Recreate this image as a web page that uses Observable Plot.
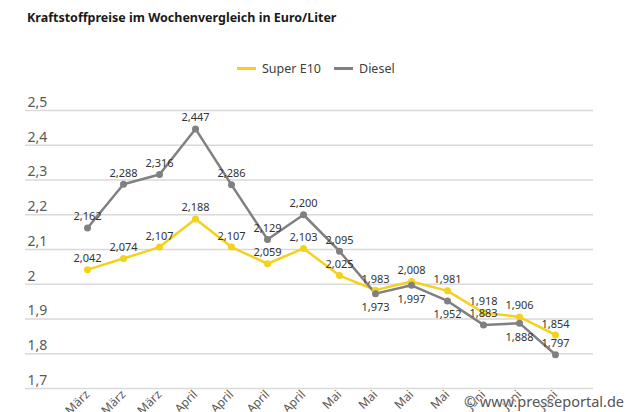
<!DOCTYPE html>
<html lang="de">
<head>
<meta charset="utf-8">
<script src="https://cdn.jsdelivr.net/npm/d3@7"></script>
<script src="https://cdn.jsdelivr.net/npm/@observablehq/plot@0.6"></script>
<style>
  html, body { margin: 0; padding: 0; background: #fff; overflow: hidden; width: 630px; height: 412px; }
  body { position: relative; font-family: "Noto Sans", sans-serif; color: #262626; }
  #title { position: absolute; left: 27px; top: 9px; font-size: 12.5px; font-weight: 700; color: #1a1a1a; white-space: nowrap; }
  #legend { position: absolute; left: 237px; top: 60px; font-size: 12.5px; color: #404040; display: flex; align-items: center; white-space: nowrap; }
  #legend .sw { display: inline-block; width: 19px; height: 3px; margin-right: 6px; }
  #legend .item { display: flex; align-items: center; margin-right: 13px; }
  #chart { position: absolute; left: 0; top: 85px; }
  #credit { position: absolute; right: 6px; top: 391px; font-size: 14.5px; color: #555; white-space: nowrap;
            text-shadow: 0 0 2px #fff, 0 0 2px #fff, 0 0 2px #fff; }
</style>
</head>
<body>
<div id="title">Kraftstoffpreise im Wochenvergleich in Euro/Liter</div>
<div id="legend"></div>
<div id="chart"></div>
<div id="credit">© www.presseportal.de</div>
<script>
// Weekly fuel prices, euro per litre
const weeks = ["März", "März", "März", "April", "April", "April", "April", "Mai", "Mai", "Mai", "Mai", "Juni", "Juni", "Juni"];
const series = ["Super E10", "Diesel"];
const colors = ["#f3d11c", "#808080"];
const superE10 = [2.042, 2.074, 2.107, 2.188, 2.107, 2.059, 2.103, 2.025, 1.983, 2.008, 1.981, 1.918, 1.906, 1.854];
const diesel = [2.162, 2.288, 2.316, 2.447, 2.286, 2.129, 2.200, 2.095, 1.973, 1.997, 1.952, 1.883, 1.888, 1.797];
const yTicks = [1.7, 1.8, 1.9, 2.0, 2.1, 2.2, 2.3, 2.4, 2.5];

const rows = [];
weeks.forEach((w, i) => {
  rows.push({i, series: "Super E10", value: superE10[i], other: diesel[i]});
  rows.push({i, series: "Diesel", value: diesel[i], other: superE10[i]});
});

const comma = (v, digits) => v.toFixed(digits).replace(".", ",");
const yFmt = v => (Math.abs(v - Math.round(v)) < 1e-9 ? String(Math.round(v)) : comma(v, 1));

// Diesel labels go under the point where the petrol line sits just above it
const below = d => d.series === "Diesel" && d.value < d.other && d.other - d.value < 0.03;

const legend = document.getElementById("legend");
series.forEach((s, k) => {
  const item = document.createElement("span");
  item.className = "item";
  item.innerHTML = `<span class="sw" style="background:${colors[k]}"></span>${s}`;
  legend.appendChild(item);
});

const plot = Plot.plot({
  width: 630,
  height: 327,
  marginTop: 25,
  marginBottom: 24,
  marginLeft: 25,
  marginRight: 37,
  style: {fontFamily: "Noto Sans, sans-serif", overflow: "visible"},
  x: {type: "point", domain: d3.range(weeks.length), range: [67, 575], axis: null},
  y: {domain: [1.7, 2.5], axis: null},
  color: {domain: series, range: colors},
  marks: [
    Plot.ruleY(yTicks, {stroke: "#d9d9d9", strokeWidth: 1.5}),
    Plot.axisY(yTicks, {anchor: "left", label: null, tickSize: 0, tickPadding: 0, textAnchor: "start", dx: 2, dy: -8,
      tickFormat: yFmt, fontSize: 14, fill: "#595959"}),
    Plot.axisX(d3.range(weeks.length), {anchor: "bottom", label: null, tickSize: 0, tickPadding: 4, tickRotate: -45,
      tickFormat: i => weeks[i], fontSize: 12, fill: "#595959"}),
    Plot.lineY(rows, {x: "i", y: "value", z: "series", stroke: "series", strokeWidth: 2.5}),
    Plot.dot(rows, {x: "i", y: "value", fill: "series", r: 3.5}),
    Plot.text(rows.filter(d => !below(d)), {x: "i", y: "value", text: d => comma(d.value, 3),
      dy: -11, fontSize: 11, fill: "#333"}),
    Plot.text(rows.filter(below), {x: "i", y: "value", text: d => comma(d.value, 3),
      dy: 14, fontSize: 11, fill: "#333"})
  ]
});
document.getElementById("chart").appendChild(plot);
</script>
</body>
</html>
